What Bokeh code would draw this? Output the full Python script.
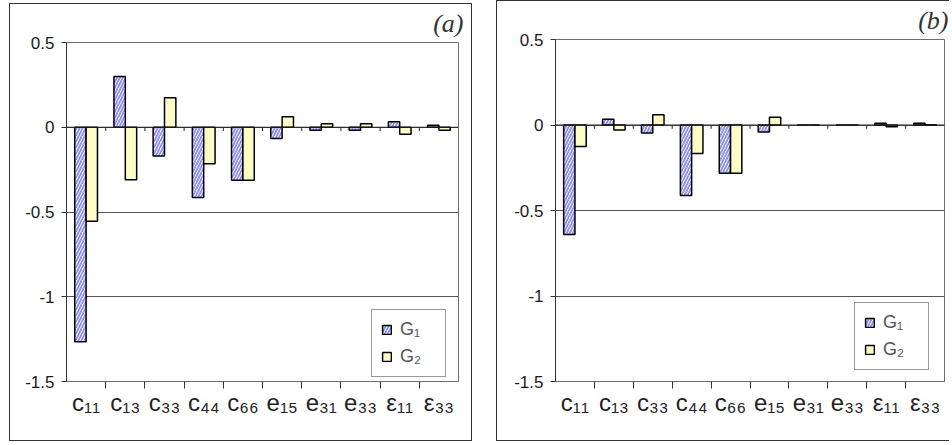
import numpy as np
from bokeh.plotting import figure
from bokeh.layouts import row
from bokeh.models import (ColumnDataSource, FixedTicker, LinearAxis, Range1d, Span,
                          Legend, LegendItem)
from bokeh.transform import dodge
from bokeh.embed import file_html
from bokeh.resources import INLINE

# ---- data ----
categories = ["c₁₁", "c₁₃", "c₃₃", "c₄₄", "c₆₆", "e₁₅", "e₃₁", "e₃₃", "ε₁₁", "ε₃₃"]
g1_a = [-1.265, 0.30, -0.17, -0.415, -0.313, -0.067, -0.018, -0.018, 0.032, 0.012]
g2_a = [-0.555, -0.31, 0.174, -0.215, -0.313, 0.062, 0.02, 0.02, -0.041, -0.018]
g1_b = [-0.64, 0.033, -0.047, -0.412, -0.282, -0.041, 0.0, 0.0, 0.01, 0.01]
g2_b = [-0.126, -0.029, 0.06, -0.167, -0.282, 0.045, 0.0, 0.0, -0.01, 0.002]
y_ticks = [0.5, 0, -0.5, -1, -1.5]
y_tick_labels = ["0.5", "0", "-0.5", "-1", "-1.5"]
series_names = ["G₁", "G₂"]
panel_titles = ["(a)", "(b)"]

FONT = "Liberation Sans"
BAR_W = 0.29


def make_panel(g1, g2, title, width, height, borders, legend_xy, title_offset, margin, styles):
    xpos = list(range(1, len(categories) + 1))
    src = ColumnDataSource(dict(x=xpos, g1=g1, g2=g2))
    p = figure(width=width, height=height, output_backend="svg", toolbar_location=None,
               x_range=Range1d(0.5, len(categories) + 0.5), y_range=Range1d(-1.5, 0.5),
               min_border_left=borders[0], min_border_right=borders[1],
               min_border_top=borders[2], min_border_bottom=borders[3],
               background_fill_color="white", border_fill_color="white",
               title=title)
    p.margin = margin
    p.styles = styles
    p.outline_line_color = "#6e6e6e"
    p.outline_line_width = 1

    p.title.align = "right"
    p.title.vertical_align = "top"
    p.title.offset = title_offset
    p.title.standoff = 6
    p.title.text_font = "Liberation Serif"
    p.title.text_font_style = "italic"
    p.title.text_font_size = "26px"
    p.title.text_color = "#333333"

    r1 = p.vbar(x=dodge("x", -BAR_W / 2), top="g1", bottom=0, width=BAR_W, source=src,
                fill_color="white", hatch_pattern="/", hatch_color="#8c8cf2",
                hatch_weight=1.8, hatch_scale=6, line_color="black", line_width=1.5)
    r2 = p.vbar(x=dodge("x", BAR_W / 2), top="g2", bottom=0, width=BAR_W, source=src,
                fill_color="#fdfcc6", line_color="black", line_width=1.5)

    # zero line + small ticks at category boundaries
    p.add_layout(Span(location=0, dimension="width", line_color="#222222", line_width=1))
    bx = [i + 0.5 for i in range(1, len(categories))]
    p.segment(x0=bx, x1=bx, y0=[0] * len(bx), y1=[-0.022] * len(bx),
              line_color="#222222", line_width=1)

    # grid
    p.xgrid.visible = False
    p.ygrid.ticker = FixedTicker(ticks=y_ticks)
    p.ygrid.grid_line_color = "#555555"
    p.ygrid.grid_line_width = 1

    # y axis
    ya = p.yaxis[0]
    ya.ticker = FixedTicker(ticks=y_ticks)
    ya.major_label_overrides = {t: s for t, s in zip(y_ticks, y_tick_labels)}
    ya.major_label_text_font = FONT
    ya.major_label_text_font_size = "17px"
    ya.major_label_text_color = "#1a1a1a"
    ya.major_tick_in = 0
    ya.major_tick_out = 5
    ya.minor_tick_line_color = None
    ya.axis_line_color = "#333333"
    ya.major_tick_line_color = "#333333"
    ya.major_label_standoff = 7

    # x axis 1: ticks at category boundaries (no labels)
    xa = p.xaxis[0]
    xa.ticker = FixedTicker(ticks=bx)
    xa.major_label_overrides = {t: "" for t in bx}
    xa.major_label_text_font_size = "1px"
    xa.major_label_standoff = 0
    xa.major_tick_in = 0
    xa.major_tick_out = 7
    xa.minor_tick_line_color = None
    xa.axis_line_color = "#6e6e6e"
    xa.major_tick_line_color = "#333333"

    # x axis 2: category labels at centres
    xl = LinearAxis(ticker=FixedTicker(ticks=xpos),
                    major_label_overrides={t: c for t, c in zip(xpos, categories)})
    xl.axis_line_color = None
    xl.major_tick_line_color = None
    xl.minor_tick_line_color = None
    xl.major_tick_in = 0
    xl.major_tick_out = 0
    xl.major_label_standoff = 0
    xl.major_label_text_font = FONT
    xl.major_label_text_font_size = "24px"
    xl.major_label_text_color = "#222222"
    p.add_layout(xl, "below")

    legend = Legend(items=[LegendItem(label=series_names[0], renderers=[r1]),
                           LegendItem(label=series_names[1], renderers=[r2])],
                    location=legend_xy)
    legend.label_text_font = FONT
    legend.label_text_font_size = "18px"
    legend.label_text_color = "#555555"
    legend.glyph_width = 11
    legend.glyph_height = 11
    legend.label_standoff = 8
    legend.padding = 9
    legend.spacing = 6
    legend.margin = 0
    legend.label_width = 36
    legend.border_line_color = "#333333"
    legend.border_line_width = 1
    legend.background_fill_alpha = 1
    p.add_layout(legend, "center")
    return p


p1 = make_panel(g1_a, g2_a, panel_titles[0], 463, 438, (56, 15, 38, 61), (305, 4), -5,
                (3, 0, 0, 9), {"border": "1px solid #333333"})
p2 = make_panel(g1_b, g2_b, panel_titles[1], 453, 441, (58, 6, 38, 61), (299, 11), -4,
                (0, 0, 0, 24), {"border": "1px solid #333333", "border-right": "none"})

layout = row(p1, p2)
open("out.html", "w").write(file_html(layout, INLINE))
